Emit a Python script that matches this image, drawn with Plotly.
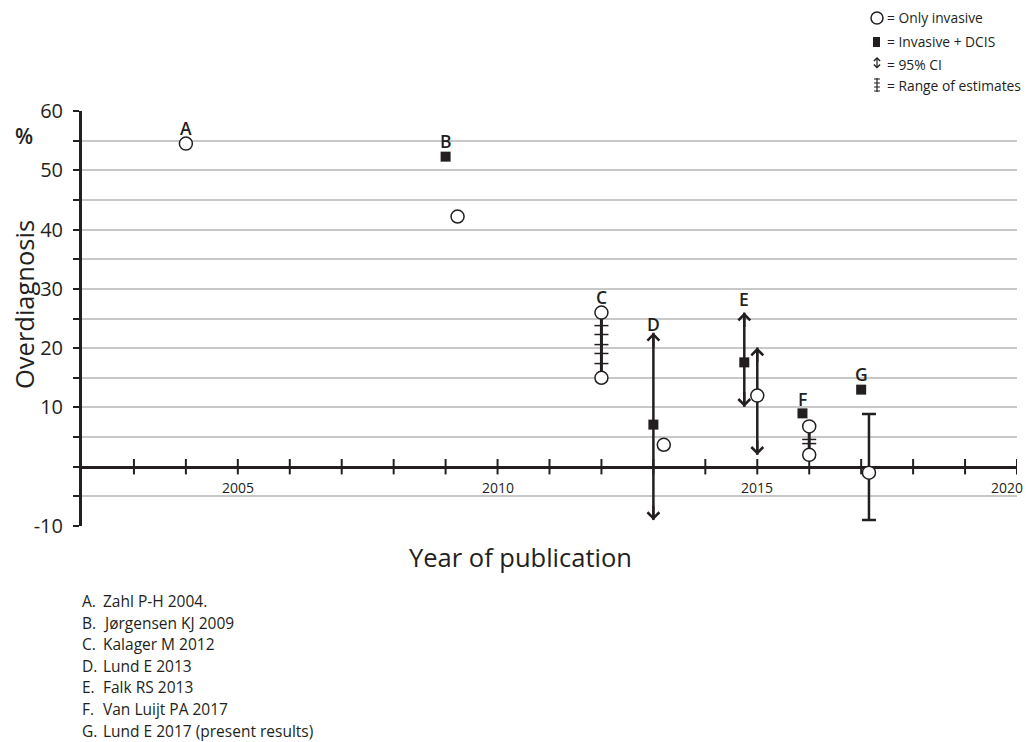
import plotly.graph_objects as go

# ---------------- data ----------------
study_letters = ["A", "B", "C", "D", "E", "F", "G"]
study_names = ["Zahl P-H 2004.", "Jørgensen KJ 2009", "Kalager M 2012", "Lund E 2013",
               "Falk RS 2013", "Van Luijt PA 2017", "Lund E 2017 (present results)"]
label_x = [2004.0, 2009.0, 2012.0, 2013.0, 2014.75, 2015.87, 2017.0]
label_y = [57.2, 55.0, 28.7, 24.0, 28.3, 11.5, 15.7]

# Only invasive (open circles)
inv_x = [2004.0, 2009.23, 2012.0, 2012.0, 2013.2, 2015.0, 2016.0, 2016.0, 2017.15]
inv_y = [54.5, 42.2, 26.0, 15.0, 3.7, 12.0, 6.8, 2.0, -1.0]

# Invasive + DCIS (filled squares)
dcis_x = [2009.0, 2013.0, 2014.75, 2015.87, 2017.0]
dcis_y = [52.3, 7.1, 17.6, 9.0, 13.0]

# 95% CI drawn as double arrows
ci_x = [2013.0, 2014.75, 2015.0]
ci_low = [-9.0, 10.1, 2.0]
ci_high = [22.6, 26.0, 20.1]

# Range of estimates (C and F)
range_x = [2012.0, 2016.0]
range_low = [15.0, 2.0]
range_high = [26.0, 6.8]
range_marks = [[23.8, 22.3, 20.6, 19.1, 17.4], [4.6, 3.9]]

# G: confidence interval with caps
g_x = [2017.15]
g_val = [-1.0]
g_low = [-9.0]
g_high = [8.9]

x_ticks_minor = list(range(2003, 2021))
x_tick_labels = [2005, 2010, 2015, 2020]
y_ticks = list(range(-10, 61, 5))
y_tick_text = [str(v) if (v % 10 == 0 and v != 0) else "" for v in y_ticks]

legend_labels = ["= Only invasive", "= Invasive + DCIS", "= 95% CI", "= Range of estimates"]

# ---------------- styling ----------------
INK = "#231f20"
FONT = "Open Sans"
OFF = 8                      # page body margin
W, H = 1025, 734
PL, PR, PT, PB = 82, 1017, 111, 526   # plot area in page pixels
ML, MT = PL - OFF, PT - OFF
MR = W - (PR - OFF)
MB = H - (PB - OFF)
PW, PH = PR - PL, PB - PT


def px(x):
    return (x - PL) / PW


def py(y):
    return (PB - y) / PH


fig = go.Figure()

# range-of-estimate lines
for xv, lo, hi, marks in zip(range_x, range_low, range_high, range_marks):
    fig.add_trace(go.Scatter(x=[xv, xv], y=[lo, hi], mode="lines",
                             line=dict(color=INK, width=3), hoverinfo="skip"))
    fig.add_trace(go.Scatter(x=[xv] * len(marks), y=marks, mode="markers",
                             marker=dict(symbol="line-ew", size=10,
                                         line=dict(color=INK, width=1.5)),
                             hoverinfo="skip"))

# CI lines
for xv, lo, hi in zip(ci_x, ci_low, ci_high):
    fig.add_trace(go.Scatter(x=[xv, xv], y=[lo, hi], mode="lines",
                             line=dict(color=INK, width=2.5), hoverinfo="skip"))

# G error bar
fig.add_trace(go.Scatter(
    x=g_x, y=g_val, mode="markers", marker=dict(size=1, color="rgba(0,0,0,0)"),
    error_y=dict(type="data", symmetric=False,
                 array=[h - v for h, v in zip(g_high, g_val)],
                 arrayminus=[v - l for l, v in zip(g_low, g_val)],
                 color=INK, thickness=2.5, width=7),
    hoverinfo="skip"))

# x-axis cross ticks
fig.add_trace(go.Scatter(x=x_ticks_minor, y=[0] * len(x_ticks_minor), mode="markers",
                         marker=dict(symbol="line-ns", size=11,
                                     line=dict(color=INK, width=2)),
                         hoverinfo="skip"))

# squares
fig.add_trace(go.Scatter(x=dcis_x, y=dcis_y, mode="markers",
                         marker=dict(symbol="square", size=10, color=INK,
                                     line=dict(width=0)),
                         name="Invasive + DCIS"))
# open circles
fig.add_trace(go.Scatter(x=inv_x, y=inv_y, mode="markers",
                         marker=dict(symbol="circle", size=13, color="white",
                                     line=dict(color=INK, width=1.5)),
                         name="Only invasive"))

annotations = []
# arrow heads for CI
for xv, lo, hi in zip(ci_x, ci_low, ci_high):
    for yv, off in ((hi, 16), (lo, -16)):
        annotations.append(dict(x=xv, y=yv, xref="x", yref="y", ax=0, ay=off,
                                text="", showarrow=True, arrowhead=4, arrowsize=1.0,
                                arrowwidth=2.3, arrowcolor=INK, standoff=0))

# x tick labels (as annotations so the last one stays inside the page)
for v in x_tick_labels:
    last = v == x_tick_labels[-1]
    annotations.append(dict(x=v, y=py(487), xref="x", yref="paper", text=str(v),
                            showarrow=False, xanchor="right" if last else "center",
                            xshift=8 if last else 0, yanchor="middle",
                            font=dict(family=FONT, size=14, color=INK)))

# study letters
for lab, xv, yv in zip(study_letters, label_x, label_y):
    annotations.append(dict(x=xv, y=yv, xref="x", yref="y", text=lab, showarrow=False,
                            xanchor="center", yanchor="middle",
                            font=dict(family=FONT, size=17.5, color=INK, weight=600)))

# axis titles
annotations.append(dict(x=px(24), y=py(305), xref="paper", yref="paper",
                        text="Overdiagnosis", textangle=-90, showarrow=False,
                        xanchor="center", yanchor="middle",
                        font=dict(family=FONT, size=25.5, color=INK, weight=500)))
annotations.append(dict(x=px(24), y=py(136), xref="paper", yref="paper",
                        text="%", showarrow=False, xanchor="center", yanchor="middle",
                        font=dict(family=FONT, size=21, color=INK, weight=600)))
annotations.append(dict(x=px(520), y=py(557), xref="paper", yref="paper",
                        text="Year of publication", showarrow=False,
                        xanchor="center", yanchor="middle",
                        font=dict(family=FONT, size=25.5, color=INK, weight=500)))

# footnotes
for i, (lab, name) in enumerate(zip(study_letters, study_names)):
    yy = 601 + 21.6 * i
    annotations.append(dict(x=px(80), y=py(yy), xref="paper", yref="paper",
                            text=lab + ".", showarrow=False, xanchor="left",
                            yanchor="middle",
                            font=dict(family=FONT, size=15.5, color=INK)))
    annotations.append(dict(x=px(101), y=py(yy), xref="paper", yref="paper",
                            text=name, showarrow=False, xanchor="left",
                            yanchor="middle",
                            font=dict(family=FONT, size=15.5, color=INK)))

# legend text
legend_y = [18, 42, 64, 85]
for txt, yy in zip(legend_labels, legend_y):
    annotations.append(dict(x=px(885), y=py(yy), xref="paper", yref="paper",
                            text=txt, showarrow=False, xanchor="left",
                            yanchor="middle",
                            font=dict(family=FONT, size=13.8, color=INK)))
# legend double arrow
annotations.append(dict(x=px(877), y=py(57), xref="paper", yref="paper",
                        ax=0, ay=13, text="", showarrow=True, arrowhead=4,
                        arrowside="end+start", arrowsize=1.0, arrowwidth=1.2,
                        arrowcolor=INK, standoff=0, startstandoff=0))

shapes = []
# legend circle
shapes.append(dict(type="circle", xref="paper", yref="paper",
                   x0=px(871), x1=px(883), y0=py(24), y1=py(12),
                   line=dict(color=INK, width=1.5), fillcolor="white"))
# legend square
shapes.append(dict(type="rect", xref="paper", yref="paper",
                   x0=px(873), x1=px(880), y0=py(47), y1=py(37),
                   line=dict(width=0), fillcolor=INK))
# legend range icon
shapes.append(dict(type="line", xref="paper", yref="paper",
                   x0=px(877), x1=px(877), y0=py(92), y1=py(78),
                   line=dict(color=INK, width=1.2)))
for yy in (79, 83, 87, 91):
    shapes.append(dict(type="line", xref="paper", yref="paper",
                       x0=px(874), x1=px(880), y0=py(yy), y1=py(yy),
                       line=dict(color=INK, width=1)))

fig.update_layout(
    width=W, height=H,
    margin=dict(l=ML, r=MR, t=MT, b=MB, autoexpand=False),
    paper_bgcolor="white", plot_bgcolor="white",
    showlegend=False,
    font=dict(family=FONT, color=INK),
    annotations=annotations,
    shapes=shapes,
    xaxis=dict(range=[2002, 2020], anchor="free", position=10 / 70,
               automargin=False,
               showline=True, linecolor=INK, linewidth=3,
               showgrid=False, zeroline=False,
               showticklabels=False, ticks="",
               layer="below traces"),
    yaxis=dict(range=[-10, 60], showline=True, linecolor=INK, linewidth=3,
               automargin=False,
               showgrid=True, gridcolor="#c8c8c8", gridwidth=1.5,
               zeroline=False,
               tickvals=y_ticks, ticktext=y_tick_text,
               ticks="outside", ticklen=6, tickwidth=2, tickcolor=INK,
               ticklabelstandoff=6,
               tickfont=dict(family=FONT, size=20, color=INK),
               layer="below traces"),
)

fig.write_html("out.html")
